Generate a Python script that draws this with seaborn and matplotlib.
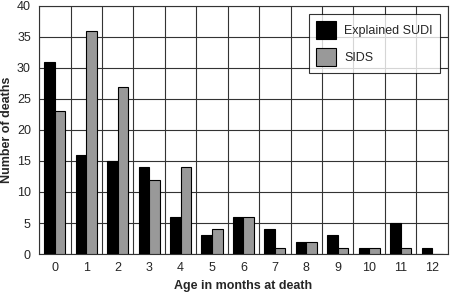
import numpy as np
import pandas as pd
import matplotlib
matplotlib.use("Agg")
import matplotlib.pyplot as plt
from matplotlib.ticker import MultipleLocator, FixedLocator
import seaborn as sns

months = list(range(13))
explained_sudi = [31, 16, 15, 14, 6, 3, 6, 4, 2, 3, 1, 5, 1]
sids = [23, 36, 27, 12, 14, 4, 6, 1, 2, 1, 1, 1, 0]
series_names = ["Explained SUDI", "SIDS"]

df = pd.DataFrame({
    "month": months * 2,
    "deaths": explained_sudi + sids,
    "group": [series_names[0]] * 13 + [series_names[1]] * 13,
})

sns.set_style("white")
plt.rcParams["font.family"] = ["Liberation Sans", "DejaVu Sans"]

fig, ax = plt.subplots(figsize=(4.5, 2.92), dpi=100)
sns.barplot(data=df, x="month", y="deaths", hue="group", palette=["#000000", "#999999"],
            width=0.67, edgecolor="black", linewidth=0.8, ax=ax, zorder=3)

ax.set_ylim(0, 40)
ax.set_xlim(-0.5, 12.5)
ax.yaxis.set_major_locator(MultipleLocator(5))
ax.yaxis.set_minor_locator(MultipleLocator(1))
ax.xaxis.set_minor_locator(FixedLocator(np.arange(-0.5, 13, 1)))
ax.grid(True, which="major", axis="y", color="#333333", linewidth=0.8, zorder=0)
ax.grid(True, which="minor", axis="x", color="#333333", linewidth=0.8, zorder=0)
ax.set_axisbelow(True)
ax.tick_params(axis="x", which="major", length=0, labelsize=9, pad=6)
ax.tick_params(axis="x", which="minor", length=4, direction="out", width=0.8)
ax.tick_params(axis="y", which="major", length=4, direction="out", labelsize=9, width=0.8, pad=2)
ax.tick_params(axis="y", which="minor", length=2, direction="in", width=0.6)
for s in ax.spines.values():
    s.set_color("#333333")
    s.set_linewidth(0.8)

ax.set_xlabel("Age in months at death", fontsize=9, fontweight="bold", labelpad=4)
ax.set_ylabel("Number of deaths", fontsize=9, fontweight="bold", labelpad=3)

leg = ax.legend(loc="upper right", fontsize=9, frameon=True, fancybox=False,
                edgecolor="black", handlelength=1.6, handleheight=1.8,
                labelspacing=0.75, borderpad=0.55, handletextpad=0.65, borderaxespad=0,
                bbox_to_anchor=(0.98, 0.967))
leg.get_frame().set_linewidth(0.8)
leg.set_zorder(5)

fig.subplots_adjust(left=0.087, right=0.995, top=0.98, bottom=0.13)
fig.savefig("out.png", dpi=100, facecolor="white")
